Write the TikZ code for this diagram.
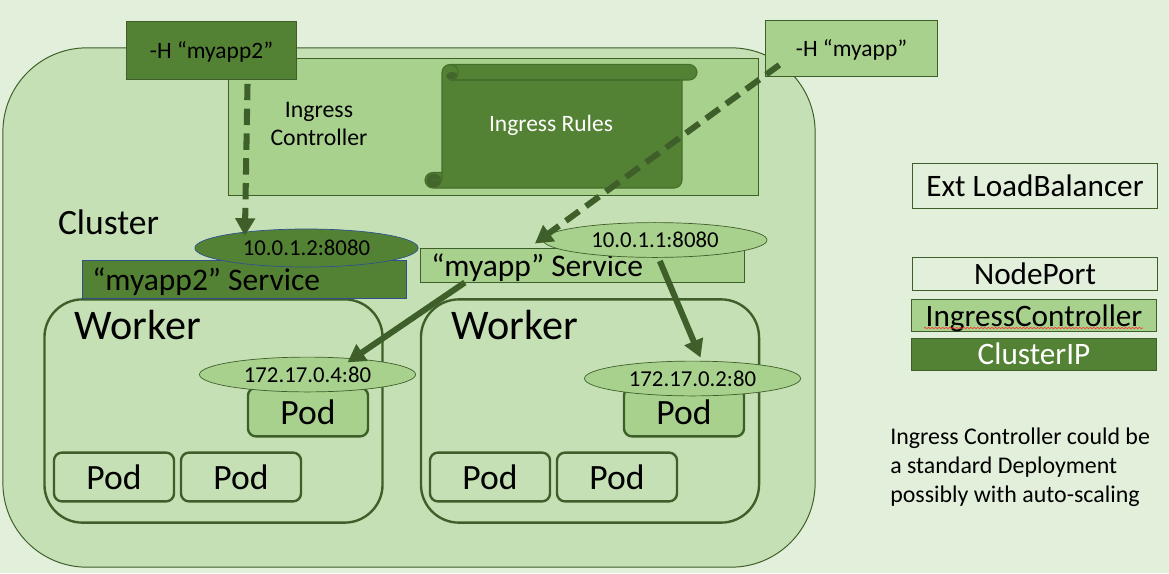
\documentclass[tikz,border=0pt]{standalone}
\usepackage{fontspec}
\setmainfont{Carlito}
\usetikzlibrary{shapes.geometric,arrows.meta,decorations.pathmorphing}
\definecolor{ingbg}{HTML}{E2EFDA}
\definecolor{inglight}{HTML}{C5E0B4}
\definecolor{ingmid}{HTML}{A9D18E}
\definecolor{ingdark}{HTML}{548235}
\definecolor{ingline}{HTML}{3F5F2A}
\definecolor{ingblue}{HTML}{2F528F}
\definecolor{scrollline}{HTML}{466F2C}
\newcommand{\pts}[1]{\fontsize{#1}{#1}\selectfont}
\tikzset{
  box/.style={draw=ingline, line width=0.7pt, inner sep=0pt},
  workerbox/.style={draw=ingline, line width=1.7pt, fill=inglight, rounded corners=0.95cm, minimum width=8.45cm, minimum height=5.58cm},
  podbox/.style={draw=ingline, line width=1.7pt, rounded corners=0.2cm, minimum width=3cm, minimum height=1.22cm, inner sep=0pt, font=\pts{25.3}},
  ipnode/.style={ellipse, draw=ingline, line width=0.5pt, fill=ingmid, minimum width=5.4cm, minimum height=0.87cm, inner sep=0pt, font=\pts{16.2}},
  legendbox/.style={box, minimum width=6.12cm, font=\pts{22.2}},
  link/.style={draw=ingline, line width=4.3pt, -{Triangle[length=0.44cm,width=0.48cm]}},
  dashlink/.style={link, dash pattern=on 0.41cm off 0.21cm}
}
\begin{document}
\begin{tikzpicture}[x=0.025cm,y=-0.025cm]
  \useasboundingbox (0,0) rectangle (1169,573);
  \fill[ingbg] (0,0) rectangle (1169,573);

  % Cluster
  \node[box, fill=inglight, rounded corners=2.1cm, minimum width=20.3cm, minimum height=12.98cm] (cluster) at (409,307.5) {};
  \node[font=\pts{25.3}] (clusterlabel) at (108.5,222) {Cluster};

  % Ingress controller
  \node[box, fill=ingmid, minimum width=13.25cm, minimum height=3.43cm] (ingress) at (493.5,126.7) {};
  \node[font=\fontsize{16.9}{20}\selectfont, align=center] (ingresslabel) at (319,124) {Ingress\\Controller};

  % Ingress rules scroll
  \draw[fill=ingdark, draw=scrollline, line width=0.8pt, rounded corners=0.2cm]
    (442,180) -- (442,64.5) -- (697,64.5) -- (697,80) [sharp corners] -- (682,80) [rounded corners=0.2cm] -- (682,188) -- (425,188) -- (425,172.5) [sharp corners] -- (442,172.5);
  \draw[scrollline, line width=0.8pt] (682,80) -- (450,80);
  \fill[ingline!80!ingdark] (452,76) ellipse (6 and 4);
  \draw[scrollline, line width=0.8pt] (450,64.5) .. controls (455,64.5) and (458,68) .. (458,72) .. controls (458,76.5) and (455,80) .. (450,80);
  \fill[ingline!80!ingdark] (434,180.5) ellipse (7.5 and 7);
  \draw[scrollline, line width=0.8pt] (433,180) -- (442,180);
  \node[white, font=\pts{16.7}] (ruleslabel) at (551,125) {Ingress Rules};

  % Host headers
  \node[box, fill=ingdark, minimum width=4.26cm, minimum height=1.45cm, text depth=0pt, font=\pts{16.7}] (hostb) at (211.5,50.3) {-H “myapp2”};
  \node[box, fill=ingmid, minimum width=4.3cm, minimum height=1.42cm, text depth=0pt, font=\pts{16.7}] (hosta) at (851.5,48.5) {-H “myapp”};

  % Workers
  \node[workerbox] (workerb) at (213.5,411) {};
  \node[workerbox] (workera) at (590,411) {};
  \node[font=\pts{30}] (workerblabel) at (138,325) {Worker};
  \node[font=\pts{30}] (workeralabel) at (515,325) {Worker};

  % Services
  \node[draw=ingblue, fill=ingdark, line width=0.6pt, minimum width=8.1cm, minimum height=0.95cm, inner sep=0pt] (svcb) at (244,279) {};
  \node[font=\pts{22.4}, anchor=west, inner sep=0pt] (svcblabel) at (92,281.5) {“myapp2” Service};
  \node[box, fill=ingmid, minimum width=8.08cm, minimum height=0.85cm] (svca) at (582.5,265) {};
  \node[font=\pts{22.4}, anchor=west, inner sep=0pt] (svcalabel) at (431,267.5) {“myapp” Service};

  % Service addresses
  \node[ipnode, draw=ingblue, fill=ingdark, minimum width=5.58cm, minimum height=0.95cm] (ipb) at (306.5,248) {10.0.1.2:8080};
  \node[ipnode, minimum width=5.6cm] (ipa) at (655,240) {10.0.1.1:8080};

  % Pods
  \node[podbox, fill=ingmid] (podb) at (308,412) {Pod};
  \node[podbox] (podbl) at (114,477) {Pod};
  \node[podbox] (podbr) at (241,477) {Pod};
  \node[podbox, fill=ingmid] (poda) at (684,412) {Pod};
  \node[podbox] (podal) at (490,477) {Pod};
  \node[podbox] (podar) at (617,477) {Pod};

  % Pod addresses
  \node[ipnode] (ipc) at (307.5,374.5) {172.17.0.4:80};
  \node[ipnode] (ipd) at (692.5,378.5) {172.17.0.2:80};

  % Connectors
  \draw[dashlink] ([xshift=0.9cm,yshift=-0.1cm]hostb.south) -- ([xshift=-1.54cm,yshift=-0.18cm]ipb.north);
  \draw[dashlink] ([xshift=0.36cm,yshift=-0.41cm]hosta.west) -- ([xshift=-1.19cm,yshift=0.1cm]svca.north);
  \draw[link] ([xshift=-2.94cm]svca.south) -- ([xshift=1cm,yshift=-0.14cm]ipc.north);
  \draw[link] ([xshift=0.12cm,yshift=-0.08cm]ipa.south) -- ([xshift=0.2cm,yshift=0.08cm]ipd.north);

  % Legend
  \node[legendbox, minimum height=1.12cm] (extlegend) at (1035,186) {Ext LoadBalancer};
  \node[legendbox, minimum height=0.82cm] (nodelegend) at (1035,274) {NodePort};
  \node[legendbox, fill=ingmid, minimum height=0.8cm, text depth=0pt] (inglegend) at (1034,315.5) {IngressController};
  \draw[red!80!white, line width=0.5pt, decorate, decoration={snake, amplitude=0.4pt, segment length=2.5pt}] (924,328) -- (1143,328);
  \node[legendbox, fill=ingdark, text=white, minimum height=0.8cm] (iplegend) at (1034,354) {ClusterIP};
  \node[anchor=north west, align=left, inner sep=0pt, font=\fontsize{17}{20.6}\selectfont] (note) at (890,428) {Ingress Controller could be\\a standard Deployment\\possibly with auto-scaling};
\end{tikzpicture}
\end{document}
